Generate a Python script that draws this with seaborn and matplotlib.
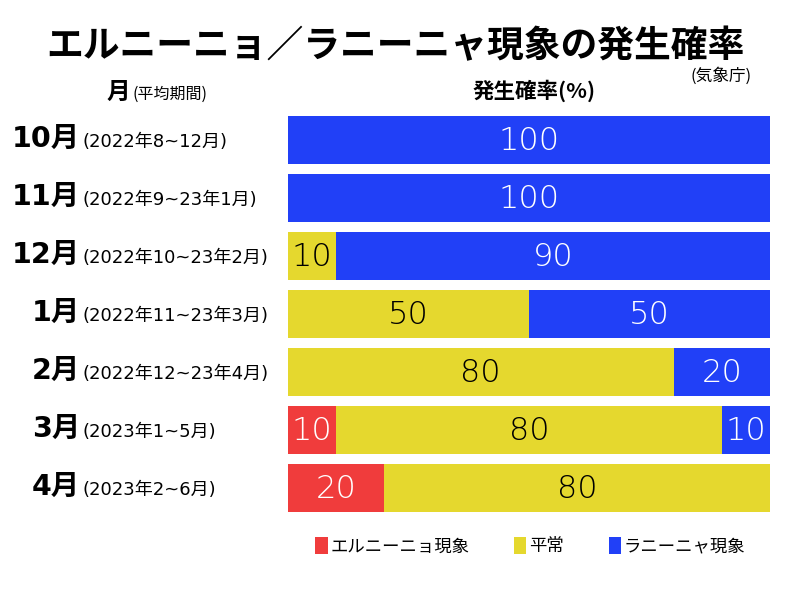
import matplotlib
matplotlib.use('Agg')
import matplotlib.pyplot as plt
import matplotlib.transforms as mtransforms
import seaborn as sns
import pandas as pd

# data (JMA outlook, %)
months = ['10月', '11月', '12月', '1月', '2月', '3月', '4月']
periods = ['(2022年8~12月)', '(2022年9~23年1月)', '(2022年10~23年2月)',
           '(2022年11~23年3月)', '(2022年12~23年4月)', '(2023年1~5月)', '(2023年2~6月)']
elnino = [0, 0, 0, 0, 0, 10, 20]
normal = [0, 0, 10, 50, 80, 80, 80]
lanina = [100, 100, 90, 50, 20, 10, 0]

series_names = ['エルニーニョ現象', '平常', 'ラニーニャ現象']
series_colors = ['#F03C3C', '#E5D82E', '#2140F7']
text_colors = ['white', 'black', 'white']

sns.set_style('white')
plt.rcParams['font.family'] = ['Noto Sans CJK JP', 'DejaVu Sans']
plt.rcParams['text.color'] = 'black'
latin_first = ['DejaVu Sans', 'Noto Sans CJK JP']

df = pd.DataFrame({'month': months, 'elnino': elnino, 'normal': normal, 'lanina': lanina})
df['c1'] = df['elnino']
df['c2'] = df['c1'] + df['normal']
df['c3'] = df['c2'] + df['lanina']

fig = plt.figure(figsize=(8, 6), dpi=100)
ax = fig.add_axes([0.36, 0.138, 0.6025, 0.677])

# stacked bars: draw cumulative totals back to front
for col, name, color in [('c3', series_names[2], series_colors[2]),
                         ('c2', series_names[1], series_colors[1]),
                         ('c1', series_names[0], series_colors[0])]:
    sns.barplot(data=df, x=col, y='month', orient='h', color=color,
                width=0.83, label=name, ax=ax, saturation=1, linewidth=0)

handles, labels = ax.get_legend_handles_labels()
if ax.get_legend() is not None:
    ax.get_legend().remove()

ax.set_xlim(0, 100)
ax.set_ylim(6.5, -0.5)
ax.set_xlabel('')
ax.set_ylabel('')
ax.set_xticks([])
ax.set_yticks([])
sns.despine(ax=ax, left=True, bottom=True)

# segment value labels
for i in range(len(months)):
    start = 0
    for vals, tc in zip([elnino, normal, lanina], text_colors):
        v = vals[i]
        if v > 0:
            ax.text(start + v / 2, i + 0.02, str(v), ha='center', va='center',
                    fontsize=23, color=tc, family='DejaVu Sans', fontweight='light')
        start += v

# row labels on the left
trans = mtransforms.blended_transform_factory(fig.transFigure, ax.transData)
for i, (m, p) in enumerate(zip(months, periods)):
    fig.text(0.1, i + 0.12, m, transform=trans, ha='right', va='baseline',
             fontsize=20.5, fontweight='bold', family=latin_first)
    fig.text(0.103, i + 0.12, p, transform=trans, ha='left', va='baseline',
             fontsize=13, family=latin_first)

# titles and headers
fig.text(0.494, 0.922, 'エルニーニョ／ラニーニャ現象の発生確率', ha='center', va='center',
         fontsize=26.5, fontweight='bold')
fig.text(0.94, 0.874, '(気象庁)', ha='right', va='center', fontsize=12)
fig.text(0.163, 0.835, '月', ha='right', va='baseline', fontsize=17, fontweight='bold')
fig.text(0.166, 0.835, '(平均期間)', ha='left', va='baseline', fontsize=11.5)
fig.text(0.668, 0.848, '発生確率(%)', ha='center', va='center', fontsize=15.5, fontweight='bold')

# legend in red, yellow, blue order
order = [labels.index(n) for n in series_names]
fig.legend([handles[k] for k in order], [labels[k] for k in order],
           loc='center', bbox_to_anchor=(0.663, 0.09), ncol=3, frameon=False,
           fontsize=12.5, handlelength=0.7, handleheight=1.2, handletextpad=0.15,
           columnspacing=2.6)

fig.savefig('out.png', dpi=100)
